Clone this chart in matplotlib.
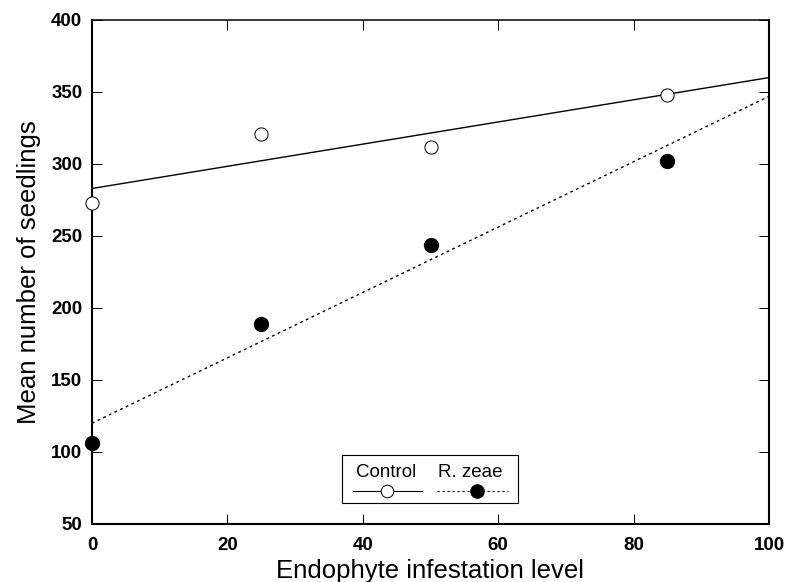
import matplotlib.pyplot as plt
from matplotlib.patches import Rectangle

plt.rcParams["font.family"] = ["Liberation Sans", "DejaVu Sans"]

levels = [0, 25, 50, 85]
control = [273, 321, 312, 348]
rzeae = [106, 189, 244, 302]

# fitted regression lines (end values)
fit_x = [0, 100]
control_fit = [283, 360]
rzeae_fit = [120, 347]

xticks = [0, 20, 40, 60, 80, 100]
yticks = [50, 100, 150, 200, 250, 300, 350, 400]

fig = plt.figure(figsize=(7.95, 5.82), dpi=100)
ax = fig.add_axes([92 / 795, 1 - 524 / 582, (769 - 92) / 795, (524 - 20) / 582])

dotted = (0, (2, 2.5))
ax.plot(fit_x, control_fit, color="black", lw=1.0)
ax.plot(fit_x, rzeae_fit, color="black", lw=1.0, ls=dotted)
ax.plot(levels, control, "o", ms=9.5, mfc="white", mec="black", mew=0.7,
        clip_on=False, zorder=3)
ax.plot(levels, rzeae, "o", ms=10, mfc="black", mec="black",
        clip_on=False, zorder=3)

ax.set_xlim(0, 100)
ax.set_ylim(50, 400)
ax.set_xticks(xticks)
ax.set_yticks(yticks)
ax.tick_params(direction="in", length=7, width=0.7, labelsize=13.5,
               top=True, right=True)
ax.tick_params(axis="x", pad=9)
ax.tick_params(axis="y", pad=7)
for lab in ax.get_xticklabels() + ax.get_yticklabels():
    lab.set_fontweight("bold")

for side in ["left", "bottom", "right"]:
    ax.spines[side].set_linewidth(1.5)
ax.spines["top"].set_linewidth(1.1)

ax.set_xlabel("Endophyte infestation level", fontsize=18.5, labelpad=4)
ax.set_ylabel("Mean number of seedlings", fontsize=18.5, labelpad=7)

# legend box with labels above the line samples
ax.add_patch(Rectangle((0.370, 0.042), 0.259, 0.095, transform=ax.transAxes,
                       fill=False, lw=0.8, ec="black", zorder=4))
ax.text(0.435, 0.103, "Control", transform=ax.transAxes, ha="center",
        va="center", fontsize=13.5, zorder=5)
ax.text(0.559, 0.103, "R. zeae", transform=ax.transAxes, ha="center",
        va="center", fontsize=13.5, zorder=5)
ax.plot([0.385, 0.488], [0.065, 0.065], transform=ax.transAxes,
        color="black", lw=0.8, zorder=5)
ax.plot([0.436], [0.065], "o", transform=ax.transAxes, ms=9, mfc="white",
        mec="black", mew=0.7, zorder=6)
ax.plot([0.510, 0.614], [0.065, 0.065], transform=ax.transAxes,
        color="black", lw=0.8, ls=dotted, zorder=5)
ax.plot([0.568], [0.065], "o", transform=ax.transAxes, ms=9.5, mfc="black",
        mec="black", zorder=6)

fig.savefig("out.png", dpi=100)
